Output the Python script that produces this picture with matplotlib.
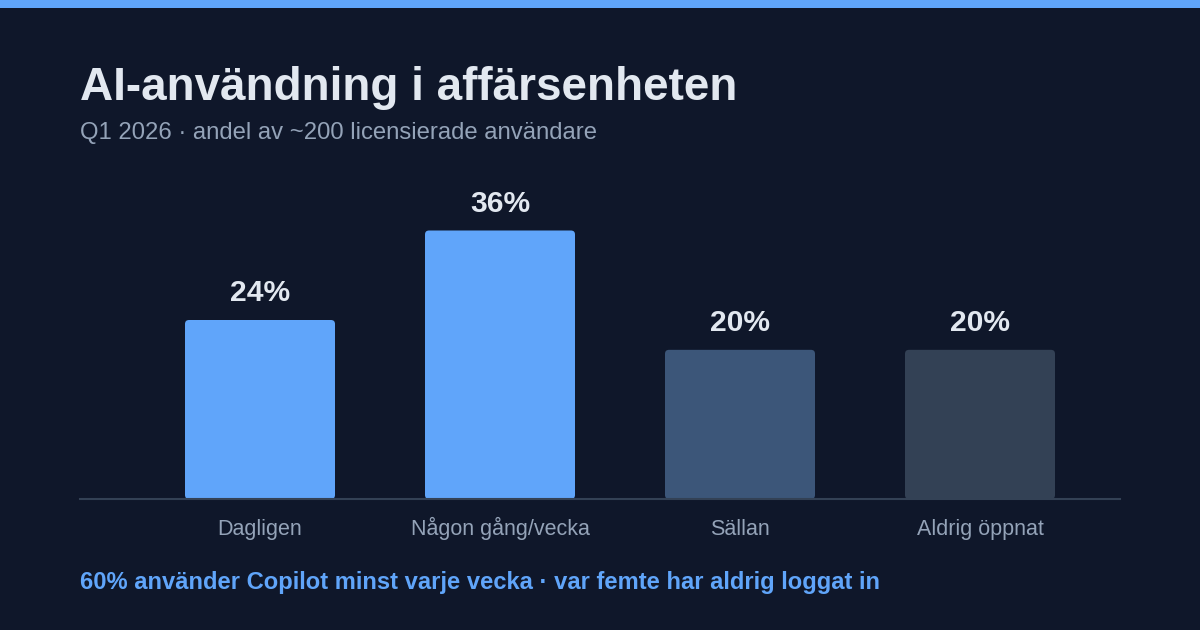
import matplotlib.pyplot as plt
from matplotlib.patches import FancyBboxPatch, Rectangle

plt.rcParams['font.family'] = ['Liberation Sans', 'DejaVu Sans']

categories = ["Dagligen", "Någon gång/vecka", "Sällan", "Aldrig öppnat"]
shares = [24, 36, 20, 20]
value_labels = ["24%", "36%", "20%", "20%"]
bar_colors = ["#60a5fa", "#60a5fa", "#3c5679", "#334155"]

title = "AI-användning i affärsenheten"
subtitle = "Q1 2026 · andel av ~200 licensierade användare"
footer = "60% använder Copilot minst varje vecka · var femte har aldrig loggat in"

BG = "#0f172a"
W, H = 1200, 630


def fx(px):
    return px / W


def fy(py):
    return 1 - py / H


fig = plt.figure(figsize=(12, 6.3), dpi=100, facecolor=BG)

# accent strip at the top
fig.patches.append(Rectangle((0, fy(8)), 1, 8 / H, transform=fig.transFigure,
                             facecolor="#60a5fa", edgecolor="none"))

fig.text(fx(80), fy(100), title, fontsize=33, fontweight="bold",
         color="#e2e8f0", va="baseline", ha="left")
fig.text(fx(80), fy(139), subtitle, fontsize=17.2, color="#94a3b8",
         va="baseline", ha="left")
fig.text(fx(80), fy(589), footer, fontsize=17.1, fontweight="bold",
         color="#60a5fa", va="baseline", ha="left")

# plot area: x from 80 to 1120 px, baseline at 499 px
top_px, base_px = 160, 499
ax = fig.add_axes([fx(80), fy(base_px), fx(1120) - fx(80), (base_px - top_px) / H])
ax.set_facecolor("none")

px_per_x = 240
px_per_y = 179 / 24
ax.set_xlim(-(260 - 80) / px_per_x, (1120 - 260) / px_per_x)
ax.set_ylim(0, (base_px - top_px) / px_per_y)

bar_w = 150 / px_per_x
radius = 4 / px_per_x
aspect = px_per_x / px_per_y

bars = ax.bar(range(len(categories)), shares, width=bar_w, color=bar_colors)
for b in bars:
    b.set_visible(False)
    rb = FancyBboxPatch((b.get_x(), b.get_y()), b.get_width(), b.get_height(),
                        boxstyle=f"round,pad=0,rounding_size={radius}",
                        mutation_aspect=aspect, facecolor=b.get_facecolor(),
                        edgecolor="none")
    ax.add_patch(rb)

for i, (v, lab) in enumerate(zip(shares, value_labels)):
    ax.annotate(lab, (i, v), xytext=(0, 13.5), textcoords="offset points",
                ha="center", va="baseline", fontsize=21.6, fontweight="bold",
                color="#e2e8f0")

ax.axhline(0, color="#334155", linewidth=1.5, clip_on=False)

ax.set_xticks(range(len(categories)))
ax.set_xticklabels(categories, fontsize=15.5, color="#94a3b8", va="baseline")
ax.tick_params(axis="x", length=0, pad=26)
ax.set_yticks([])
for s in ax.spines.values():
    s.set_visible(False)

fig.savefig("out.png", dpi=100, facecolor=BG)
